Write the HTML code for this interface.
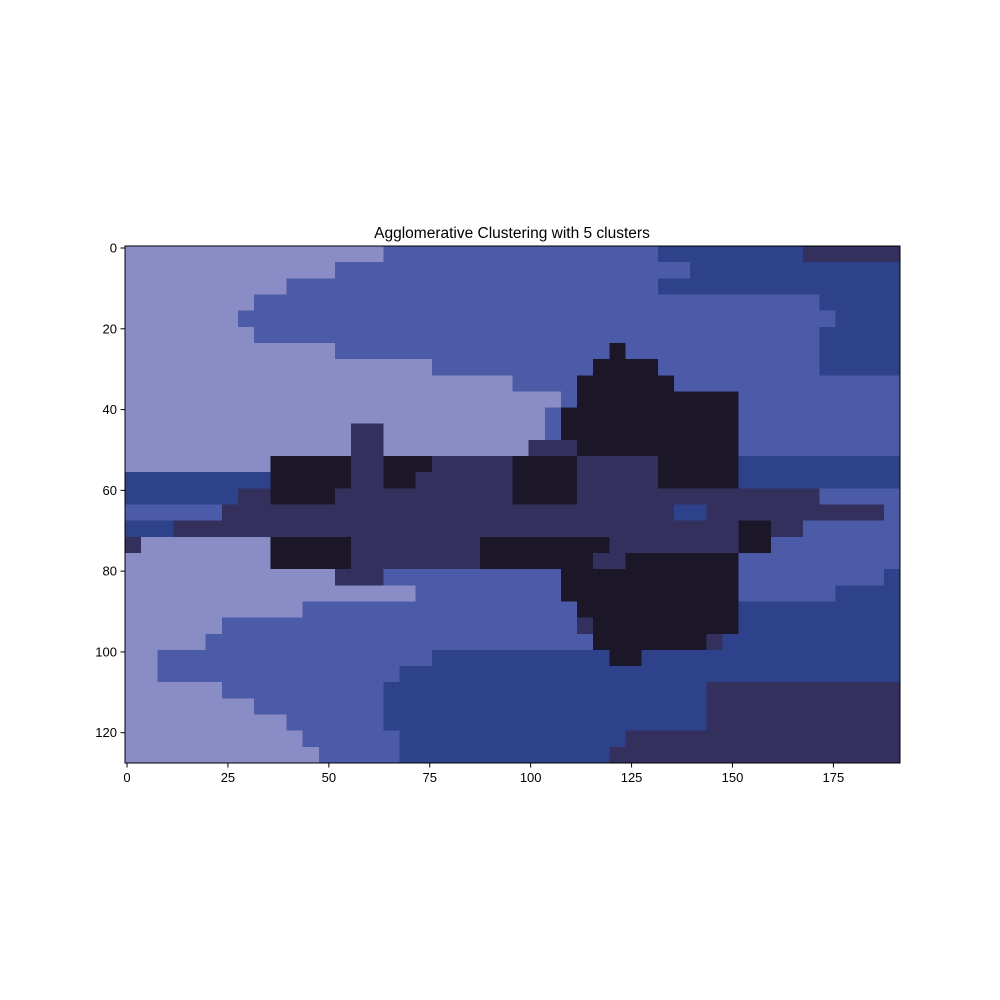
<!DOCTYPE html>
<html><head><meta charset="utf-8"><style>
html,body{margin:0;padding:0;background:#fff;width:1000px;height:1000px;overflow:hidden}
svg text{font-family:"Liberation Sans","DejaVu Sans",sans-serif;fill:#000}
</style></head><body>
<svg id="chart" width="1000" height="1000" xmlns="http://www.w3.org/2000/svg">
<rect width="1000" height="1000" fill="#fff"/>
<text x="512" y="238" font-size="15.5" text-anchor="middle">Agglomerative Clustering with 5 clusters</text>
<g id="cells" shape-rendering="crispEdges"></g>
<g id="axes"></g>
</svg>
<script>
const clusterColors = ["#8a8dc5","#4b5ba8","#2e428b","#33305e","#1b1729"];
const xTicks = [0,25,50,75,100,125,150,175];
const yTicks = [0,20,40,60,80,100,120];
const nCols = 192, nRows = 128, block = 4;
// each row covers 4 image rows; runs of "label:count" in 4-column blocks
const labelRows = [
"0:16,1:17,2:9,3:6",
"0:13,1:22,2:13",
"0:10,1:23,2:15",
"0:8,1:35,2:5",
"0:7,1:37,2:4",
"0:8,1:35,2:5",
"0:13,1:17,4:1,1:12,2:5",
"0:19,1:10,4:4,1:10,2:5",
"0:24,1:4,4:6,1:14",
"0:27,1:1,4:10,1:10",
"0:26,1:1,4:11,1:10",
"0:14,3:2,0:10,1:1,4:11,1:10",
"0:14,3:2,0:9,3:3,4:10,1:10",
"0:9,4:5,3:2,4:3,3:5,4:4,3:5,4:5,2:10",
"2:9,4:5,3:2,4:2,3:6,4:4,3:5,4:5,2:10",
"2:7,3:2,4:4,3:11,4:4,3:15,1:5",
"1:6,3:28,2:2,3:11,1:1",
"2:3,3:35,4:2,3:2,1:6",
"3:1,0:8,4:5,3:8,4:8,3:8,4:2,1:8",
"0:9,4:5,3:8,4:7,3:2,4:7,1:10",
"0:13,3:3,1:11,4:11,1:9,2:1",
"0:18,1:9,4:11,1:6,2:4",
"0:11,1:17,4:10,2:10",
"0:6,1:22,3:1,4:9,2:10",
"0:5,1:24,4:7,3:1,2:11",
"0:2,1:17,2:11,4:2,2:16",
"0:2,1:15,2:31",
"0:6,1:10,2:20,3:12",
"0:8,1:8,2:20,3:12",
"0:10,1:6,2:20,3:12",
"0:11,1:6,2:14,3:17",
"0:12,1:5,2:13,3:18"
];
const X0=125, X1=900, Y0=246, Y1=763;
function xs(v){return X0+(v+0.5)*(X1-X0)/nCols;}
function ys(v){return Y0+(v+0.5)*(Y1-Y0)/nRows;}
const NS="http://www.w3.org/2000/svg";
const cells=document.getElementById('cells');
labelRows.forEach((row,ri)=>{
  let c=0;
  row.split(',').forEach(seg=>{
    const [lab,cnt]=seg.split(':').map(Number);
    const r=document.createElementNS(NS,'rect');
    
    
    const xa=xs(c*block-0.5), xb=xs((c+cnt)*block-0.5);
    const ya=ys(ri*block-0.5), yb=ys(Math.min((ri+1)*block,nRows)-0.5);
    r.setAttribute('x',xa);r.setAttribute('y',ya);
    r.setAttribute('width',xb-xa+0.5);r.setAttribute('height',yb-ya+0.5);
    r.setAttribute('fill',clusterColors[lab]);
    cells.appendChild(r);
    c+=cnt;
  });
});
const axes=document.getElementById('axes');
const frame=document.createElementNS(NS,'rect');


frame.setAttribute('x',X0);frame.setAttribute('y',Y0);frame.setAttribute('width',X1-X0);frame.setAttribute('height',Y1-Y0);
frame.setAttribute('fill','none');frame.setAttribute('stroke','#000');frame.setAttribute('stroke-width','1');
axes.appendChild(frame);
xTicks.forEach(t=>{
  const x=xs(t);
  const l=document.createElementNS(NS,'line');
  
  
  l.setAttribute('x1',x);l.setAttribute('x2',x);l.setAttribute('y1',Y1);l.setAttribute('y2',Y1+4.5);l.setAttribute('stroke','#000');
  axes.appendChild(l);
  const tx=document.createElementNS(NS,'text');
  
  
  tx.setAttribute('x',x);tx.setAttribute('y',Y1+19);tx.setAttribute('font-size','13');tx.setAttribute('text-anchor','middle');
  tx.textContent=t;axes.appendChild(tx);
});
yTicks.forEach(t=>{
  const y=ys(t);
  const l=document.createElementNS(NS,'line');
  
  
  l.setAttribute('x1',X0-4.5);l.setAttribute('x2',X0);l.setAttribute('y1',y);l.setAttribute('y2',y);l.setAttribute('stroke','#000');
  axes.appendChild(l);
  const tx=document.createElementNS(NS,'text');
  
  
  tx.setAttribute('x',X0-8);tx.setAttribute('y',y+4.5);tx.setAttribute('font-size','13');tx.setAttribute('text-anchor','end');
  tx.textContent=t;axes.appendChild(tx);
});
</script>
</body></html>
